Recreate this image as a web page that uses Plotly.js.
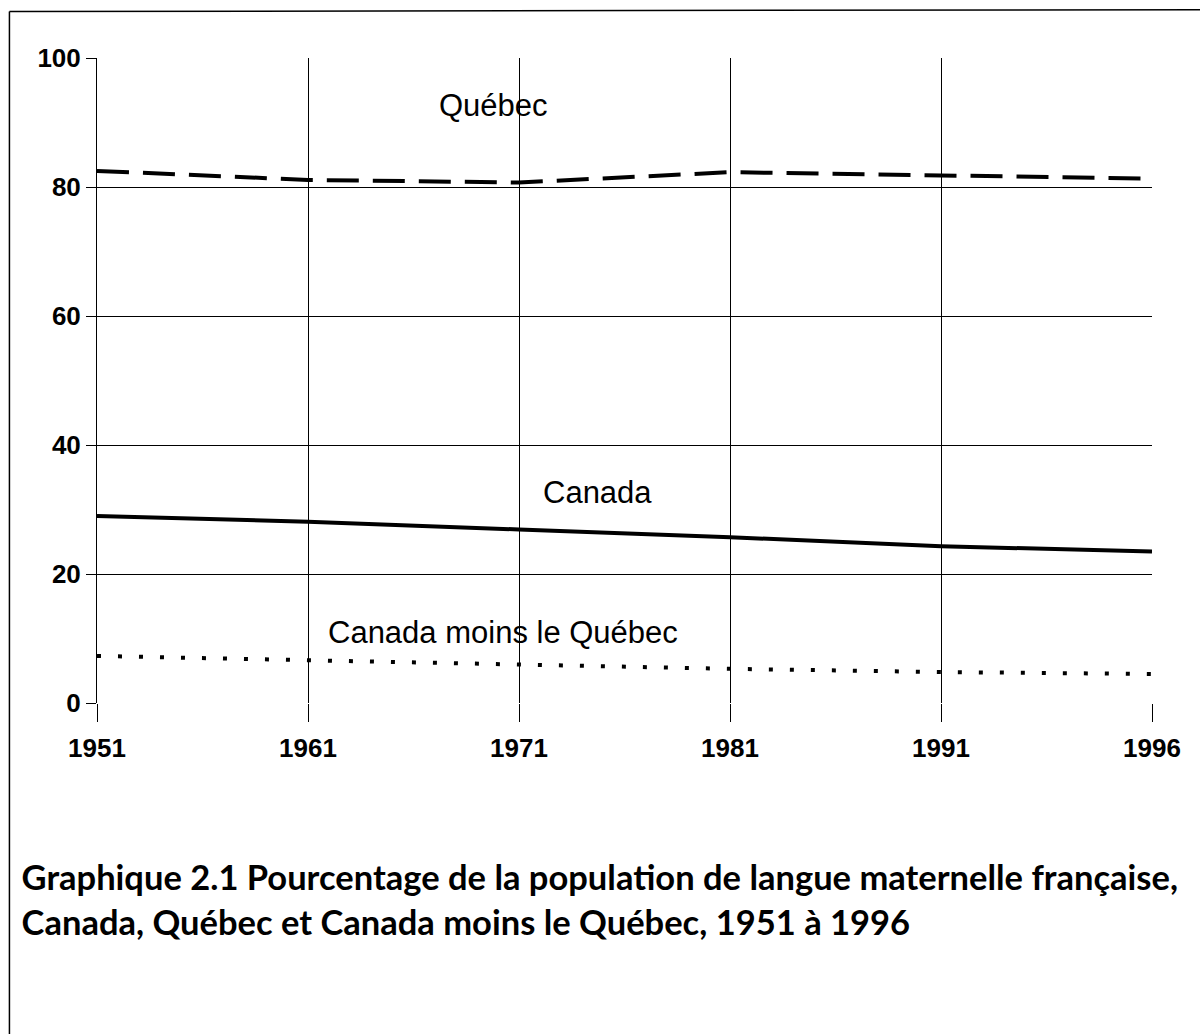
<!DOCTYPE html>
<html>
<head>
<meta charset="utf-8">
<script src="https://cdn.plot.ly/plotly-3.0.1.min.js"></script>
<style>html,body{margin:0;padding:0;background:#fff;}#chart{width:1200px;height:1034px;}</style>
</head>
<body>
<div id="chart"></div>
<script>
const years = ["1951", "1961", "1971", "1981", "1991", "1996"];
const quebec = [82.5, 81.1, 80.7, 82.3, 81.8, 81.3];
const canada = [29.0, 28.1, 26.9, 25.7, 24.3, 23.5];
const canadaMoinsQuebec = [7.3, 6.6, 6.0, 5.3, 4.8, 4.5];
const yTicks = [0, 20, 40, 60, 80, 100];

const traces = [
  {x: years, y: quebec, type: "scatter", mode: "lines", name: "Québec",
   line: {color: "#000", width: 4, dash: "32px,14px"}},
  {x: years, y: canada, type: "scatter", mode: "lines", name: "Canada",
   line: {color: "#000", width: 4}},
  {x: years, y: canadaMoinsQuebec, type: "scatter", mode: "lines", name: "Canada moins le Québec",
   line: {color: "#000", width: 4, dash: "4px,17px"}}
];

const tickFont = {family: "'Liberation Sans', Arial, sans-serif", size: 26, color: "#000", weight: "bold"};
const labelFont = {family: "'Liberation Sans', Arial, sans-serif", size: 31, color: "#000"};

const layout = {
  width: 1200, height: 1034,
  margin: {l: 97, r: 48, t: 58, b: 331},
  paper_bgcolor: "#fff", plot_bgcolor: "#fff",
  showlegend: false,
  xaxis: {
    type: "category", range: [0, 5],
    showgrid: true, gridcolor: "#000", gridwidth: 1,
    ticks: "outside", ticklen: 18, tickcolor: "#000", tickwidth: 1,
    tickfont: tickFont, showline: false, zeroline: false,
    ticklabelstandoff: 4, fixedrange: true
  },
  yaxis: {
    range: [0, 100], tickvals: yTicks, ticktext: yTicks.map(String),
    showgrid: true, gridcolor: "#000", gridwidth: 1,
    ticks: "outside", ticklen: 10, tickcolor: "#000", tickwidth: 1,
    tickfont: tickFont, showline: true, linecolor: "#000", linewidth: 1,
    zeroline: false, fixedrange: true
  },
  title: {
    text: "<b>Graphique 2.1 Pourcentage de la population de langue maternelle française,<br>Canada, Québec et Canada moins le Québec, 1951 à 1996</b>",
    font: {family: "Lato, 'Open Sans', sans-serif", size: 34.5, color: "#000"},
    xref: "container", yref: "container", x: 0.018, xanchor: "left",
    y: 0.139, yanchor: "middle", automargin: false
  },
  annotations: [
    {text: "Québec", xref: "paper", yref: "paper", x: 0.376, y: 0.926, showarrow: false, font: labelFont, xanchor: "center", yanchor: "middle"},
    {text: "Canada", xref: "paper", yref: "paper", x: 0.474, y: 0.327, showarrow: false, font: labelFont, xanchor: "center", yanchor: "middle"},
    {text: "Canada moins le Québec", xref: "paper", yref: "paper", x: 0.385, y: 0.109, showarrow: false, font: labelFont, xanchor: "center", yanchor: "middle"}
  ],
  shapes: [
    {type: "line", xref: "paper", yref: "paper", x0: -0.083, x1: 1.05, y0: 1.072, y1: 1.075, line: {color: "#000", width: 1.5}},
    {type: "line", xref: "paper", yref: "paper", x0: -0.083, x1: -0.083, y0: 1.072, y1: -0.52, line: {color: "#000", width: 1.5}}
  ]
};

Plotly.newPlot("chart", traces, layout, {displayModeBar: false, staticPlot: true});
</script>
</body>
</html>
